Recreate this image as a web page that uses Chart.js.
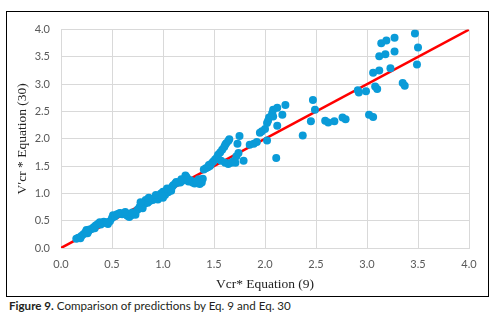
<!DOCTYPE html>
<html>
<head>
<meta charset="utf-8">
<script src="https://cdn.jsdelivr.net/npm/chart.js@4.4.1/dist/chart.umd.min.js"></script>
<style>
  html, body { margin: 0; padding: 0; background: #ffffff; width: 498px; height: 328px; overflow: hidden; }
  #box { position: absolute; left: 6px; top: 11px; width: 483px; height: 286px; border: 1px solid #000; box-sizing: border-box; }
  #c { display: block; }
  #cap { position: absolute; left: 9px; top: 299px; font-family: Lato, "Open Sans", sans-serif; font-size: 11.6px; color: #231f20; white-space: nowrap; }
  #cap b { font-weight: 700; }
</style>
</head>
<body>
<div id="box"><canvas id="c" width="481" height="284"></canvas></div>
<div id="cap"><b>Figure 9.</b> Comparison of predictions by Eq. 9 and Eq. 30</div>
<script>
// Vcr* by Equation (9)
const eq9 = [
  0.15,0.17,0.19,0.20,0.22,0.24,0.25,0.27,0.28,0.30,
  0.32,0.34,0.36,0.38,0.40,0.42,0.44,0.46,0.48,0.50,
  0.51,0.53,0.55,0.58,0.60,0.62,0.65,0.67,0.69,0.71,
  0.73,0.75,0.77,0.79,0.80,0.82,0.83,0.85,0.87,0.88,
  0.90,0.92,0.94,0.95,0.97,0.98,1.00,1.00,1.02,1.03,
  1.05,1.07,1.09,1.10,1.12,1.15,1.17,1.19,1.21,1.22,
  1.23,1.25,1.27,1.29,1.31,1.33,1.35,1.36,1.38,1.39,
  1.40,1.42,1.44,1.46,1.47,1.49,1.51,1.53,1.54,1.56,
  1.58,1.60,1.61,1.62,1.64,1.65,1.57,1.61,1.64,1.67,
  1.69,1.71,1.72,1.74,1.79,1.73,1.75,1.85,1.89,1.92,
  1.95,1.97,2.00,2.02,2.03,2.04,2.08,2.07,2.08,2.12,
  2.20,2.17,2.12,2.02,2.11,2.37,2.45,2.47,2.49,2.59,
  2.62,2.68,2.76,2.79,2.91,2.92,2.99,3.02,3.06,3.08,
  3.10,3.35,3.37,3.06,3.12,3.23,3.12,3.18,3.27,3.14,
  3.19,3.27,3.47,3.50,3.49,
  0.26,0.33,0.39,0.45,0.57,0.63,0.70,0.78,0.86,0.93,
  0.99,1.04,1.08,1.13,1.18,1.24,1.34,1.45
];
// V'cr* by Equation (30)
const eq30 = [
  0.17,0.19,0.18,0.22,0.25,0.29,0.33,0.31,0.34,0.35,
  0.38,0.41,0.44,0.47,0.46,0.48,0.46,0.44,0.49,0.55,
  0.60,0.58,0.62,0.64,0.62,0.63,0.59,0.57,0.60,0.63,
  0.61,0.70,0.75,0.78,0.73,0.81,0.88,0.83,0.86,0.90,
  0.88,0.91,0.95,0.89,0.93,1.00,1.03,0.92,0.97,1.05,
  1.02,1.08,1.12,1.15,1.18,1.20,1.20,1.23,1.26,1.33,
  1.30,1.22,1.24,1.20,1.18,1.22,1.26,1.17,1.20,1.27,
  1.44,1.46,1.48,1.50,1.54,1.58,1.62,1.66,1.71,1.75,
  1.80,1.85,1.89,1.92,1.96,1.99,1.60,1.56,1.54,1.56,
  1.59,1.56,1.68,1.74,1.60,1.91,2.05,1.89,1.91,1.94,
  2.11,2.14,2.18,2.29,2.33,2.39,2.41,2.47,2.53,2.57,
  2.62,2.44,2.24,1.97,1.65,2.06,2.32,2.71,2.53,2.33,
  2.30,2.32,2.39,2.36,2.89,2.85,2.87,2.44,2.40,2.96,
  2.91,3.02,2.97,3.21,3.25,3.29,3.51,3.55,3.60,3.75,
  3.80,3.85,3.93,3.67,3.36,
  0.27,0.36,0.43,0.47,0.63,0.66,0.65,0.84,0.92,0.97,
  0.95,1.09,1.05,1.21,1.26,1.27,1.21,1.52
];
// line of equality
const lineX = [0, 4];
const lineY = [0, 4];
const tickValues = [0, 0.5, 1, 1.5, 2, 2.5, 3, 3.5, 4];

const pts = eq9.map((x, i) => ({ x: x, y: eq30[i] }));
const linePts = lineX.map((x, i) => ({ x: x, y: lineY[i] }));

const tickFont = { family: 'Lato, "Open Sans", sans-serif', size: 11 };
const titleFont = { family: '"Liberation Serif", "DejaVu Serif", serif', size: 13.5 };

new Chart(document.getElementById('c'), {
  type: 'scatter',
  data: {
    datasets: [
      {
        label: 'Predictions',
        data: pts,
        backgroundColor: '#0a9bd8',
        borderWidth: 0,
        pointRadius: 4,
        pointHoverRadius: 4,
        order: 1
      },
      {
        type: 'line',
        label: 'Equality',
        data: linePts,
        borderColor: '#ff0000',
        borderWidth: 2.5,
        pointRadius: 0,
        fill: false,
        order: 2
      }
    ]
  },
  options: {
    responsive: false,
    animation: false,
    devicePixelRatio: 1,
    layout: { padding: { top: 15, right: 19, bottom: 0, left: 0 } },
    plugins: { legend: { display: false }, tooltip: { enabled: false } },
    scales: {
      x: {
        type: 'linear', min: 0, max: 4,
        afterBuildTicks: s => { s.ticks = tickValues.map(v => ({ value: v })); },
        afterFit: s => { s.height = 48; },
        grid: { color: '#d9d9d9', drawTicks: false },
        border: { color: '#d9d9d9' },
        ticks: { padding: 10, color: '#595959', font: tickFont, callback: v => Number(v).toFixed(1) },
        title: { display: true, text: 'Vcr* Equation (9)', color: '#222', font: titleFont, padding: { top: 0, bottom: 3 } }
      },
      y: {
        type: 'linear', min: 0, max: 4,
        afterBuildTicks: s => { s.ticks = tickValues.map(v => ({ value: v })); },
        afterFit: s => { s.width = 54; },
        grid: { color: '#d9d9d9', drawTicks: false },
        border: { color: '#d9d9d9' },
        ticks: { padding: 11, color: '#595959', font: tickFont, callback: v => Number(v).toFixed(1) },
        title: { display: true, text: "V′cr * Equation (30)", color: '#222', font: titleFont, padding: { top: 7, bottom: 0 } }
      }
    }
  }
});
</script>
</body>
</html>
